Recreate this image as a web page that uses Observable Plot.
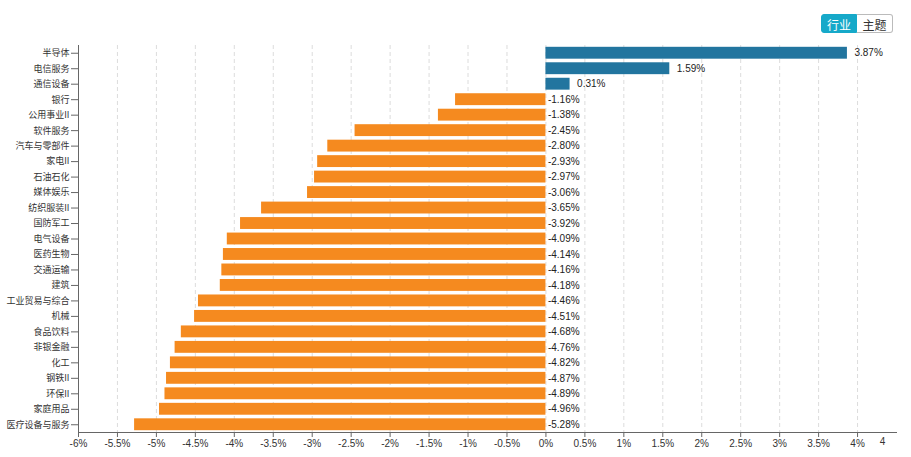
<!DOCTYPE html>
<html>
<head>
<meta charset="utf-8">
<script src="https://cdn.jsdelivr.net/npm/d3@7"></script>
<script src="https://cdn.jsdelivr.net/npm/@observablehq/plot@0.6"></script>
<style>
  html, body { margin: 0; padding: 0; background: #fff; }
  #wrap { position: relative; width: 911px; height: 457px; font-family: "Liberation Sans", "Noto Sans CJK SC", sans-serif; }
  .btns { position: absolute; left: 821px; top: 14px; display: flex; font-family: "Noto Sans CJK SC", sans-serif; font-size: 12px; }
  .btns div { width: 36px; height: 19px; line-height: 19px; text-align: center; box-sizing: border-box; }
  .on { background: #16a9c9; color: #fff; border: 1px solid #16a9c9; border-radius: 3px 0 0 3px; }
  .off { background: #fff; color: #333; border: 1px solid #bbb; border-left: none; border-radius: 0 3px 3px 0; }
</style>
</head>
<body>
<div id="wrap">
  <div class="btns"><div class="on">行业</div><div class="off">主题</div></div>
</div>
<script>
const industries = ["半导体","电信服务","通信设备","银行","公用事业II","软件服务","汽车与零部件","家电II","石油石化","媒体娱乐","纺织服装II","国防军工","电气设备","医药生物","交通运输","建筑","工业贸易与综合","机械","食品饮料","非银金融","化工","钢铁II","环保II","家庭用品","医疗设备与服务"];
const changes = [3.87,1.59,0.31,-1.16,-1.38,-2.45,-2.80,-2.93,-2.97,-3.06,-3.65,-3.92,-4.09,-4.14,-4.16,-4.18,-4.46,-4.51,-4.68,-4.76,-4.82,-4.87,-4.89,-4.96,-5.28];
const xTicks = [-6,-5.5,-5,-4.5,-4,-3.5,-3,-2.5,-2,-1.5,-1,-0.5,0,0.5,1,1.5,2,2.5,3,3.5,4];
const gridTicks = [-5.5,-5,-4.5,-4,-3.5,-3,-2.5,-2,-1.5,-1,-0.5,0,0.5,1,1.5,2,2.5,3,3.5,4];
const edgeLabel = [{x: 4.5, t: "4"}];

const data = industries.map((name, i) => ({name, v: changes[i]}));
const pos = data.filter(d => d.v >= 0);
const neg = data.filter(d => d.v < 0);
const fmt = d => d.v.toFixed(2) + "%";

const chart = Plot.plot({
  width: 911,
  height: 457,
  marginLeft: 78,
  marginRight: 15,
  marginTop: 45,
  marginBottom: 25,
  style: {fontFamily: "Liberation Sans, Noto Sans CJK SC, sans-serif", fontSize: "10px", color: "#333"},
  x: {domain: [-6, 4.5]},
  y: {domain: industries, padding: 0, round: false},
  marks: [
    Plot.gridX(gridTicks, {stroke: "#dcdcdc", strokeOpacity: 1, strokeDasharray: "4,3"}),
    Plot.barX(data, {x: "v", y: "name", fill: d => d.v >= 0 ? "#22759f" : "#f58a1f", insetTop: 1.8, insetBottom: 1.8}),
    Plot.text(pos, {x: "v", y: "name", text: fmt, textAnchor: "start", dx: 7, fill: "#222", fontSize: 10}),
    Plot.text(neg, {x: () => 0, y: "name", text: fmt, textAnchor: "start", dx: 2, fill: "#222", fontSize: 10}),
    Plot.axisY({tickSize: 7, tickPadding: 2, fontSize: 9, fontFamily: "Noto Sans CJK SC, sans-serif", stroke: "#666", fill: "#333", label: null}),
    Plot.axisX({ticks: xTicks, tickFormat: d => d + "%", tickSize: 5, tickPadding: 2, stroke: "#666", fill: "#333", label: null}),
    Plot.text(edgeLabel, {x: "x", text: "t", frameAnchor: "bottom", dy: 12, dx: -14, fill: "#333", fontSize: 10}),
    Plot.ruleX([-6], {stroke: "#666"}),
    Plot.frame({anchor: "bottom", stroke: "#666"})
  ]
});
document.getElementById("wrap").appendChild(chart);
</script>
</body>
</html>
